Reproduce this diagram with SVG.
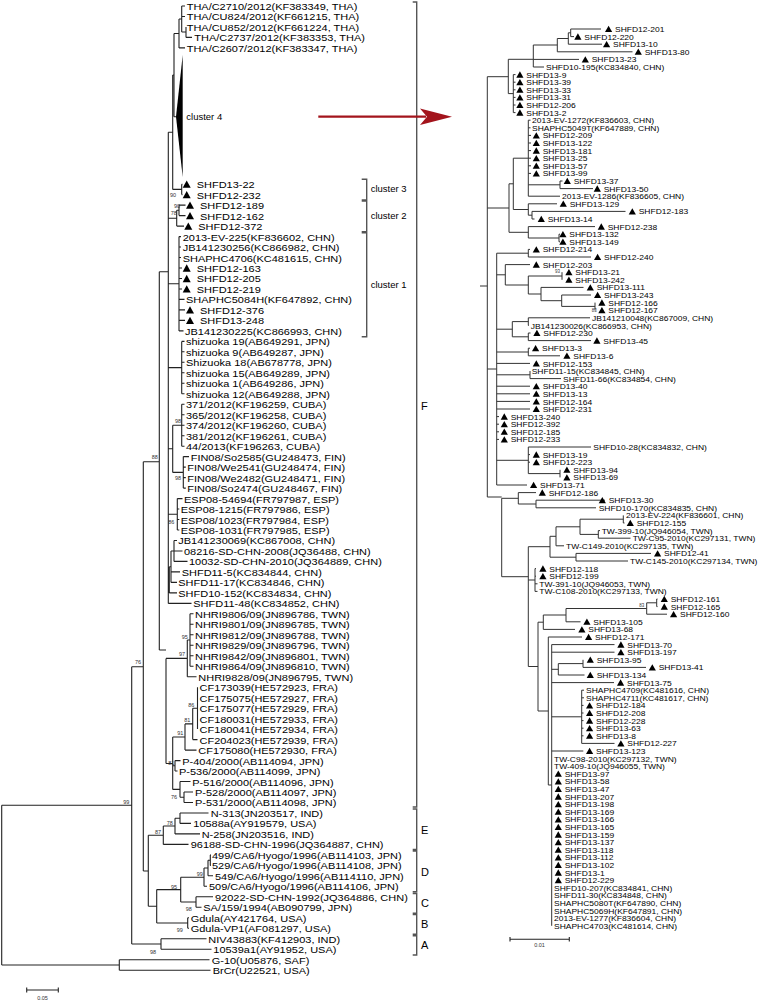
<svg xmlns="http://www.w3.org/2000/svg" xmlns:xlink="http://www.w3.org/1999/xlink" width="762" height="1000" viewBox="0 0 762 1000">
<style>
.L{font-family:"Liberation Sans",Arial,sans-serif;font-size:11px;fill:#000}
.R{font-family:"Liberation Sans",Arial,sans-serif;font-size:8.5px;fill:#000}
.bs{font-family:"Liberation Sans",Arial,sans-serif;font-size:5.5px;fill:#333}
.bsr{font-family:"Liberation Sans",Arial,sans-serif;font-size:4.5px;fill:#333}
.cl{font-family:"Liberation Sans",Arial,sans-serif;font-size:9.5px;fill:#000}
.tree{fill:none;stroke:#222;stroke-width:1.1}
.rtree{fill:none;stroke:#333;stroke-width:1}
.br{fill:none;stroke:#555;stroke-width:1.4}
</style>
<defs>
<path id="tl" d="M0,4.3 L4,-4.3 L8,4.3Z" fill="#000"/>
<path id="tr" d="M0,4 L3.6,-4.3 L7.2,4Z" fill="#000"/>
</defs>
<rect width="762" height="1000" fill="#fff"/>

<g id="connectors">
<path class="tree" d="M181.7,6V32 M181.7,6H185 M181.7,16.5H185 M181.7,32H186 M186,27V37.4 M186,37.4H192 M179,19V47.9 M179,19H181.7 M179,47.9H185 M174,33.5V116.7 M174,33.5H179 M174,116.7H176 M172.7,75V189.4 M172.7,75H174 M172.7,189.4H181.7 M181.7,184.2V194.6 M181.7,184.2H182.5 M181.7,194.6H182.5 M168.3,132.2V603.4 M168.3,132.2H172.7 M179,205.1V215.6 M179,205.1H185.5 M179,215.6H185.5 M176.7,210.3V226.1 M176.7,210.3H179 M176.7,226.1H184 M168.3,218.2H176.7 M179,236.6V330.9 M179,236.6H181 M179,247H181 M179,257.5H181 M179,268H182 M179,278.5H182 M179,289H182 M179,299.4H184.5 M179,309.9H185 M179,320.4H185 M179,330.9H183.5 M168.3,283.7H179 M181.7,341.4V393.8 M181.7,341.4H184.5 M181.7,351.8H184.5 M181.7,362.3H184.5 M181.7,372.8H184.5 M181.7,383.3H184.5 M181.7,393.8H184.5 M168.3,367.6H181.7 M181.7,404.2V446.2 M181.7,404.2H184.5 M181.7,414.7H184.5 M181.7,425.2H184.5 M181.7,435.7H184.5 M181.7,446.2H184.5 M172.7,425.2V472.4 M172.7,425.2H181.7 M172.7,472.4H183.3 M168.3,448.8H172.7 M183.3,456.6V488.1 M183.3,456.6H189 M183.3,467.1H185.8 M183.3,477.6H185.8 M183.3,488.1H185.8 M177.3,498.6V530 M177.3,498.6H182.5 M177.3,509H179.3 M177.3,519.5H179.3 M177.3,530H179.3 M168.3,514.3H177.3 M174,540.5V561.4 M174,540.5H177 M174,551H182.5 M174,561.4H187.5 M171,551V582.4 M171,551H174 M171,571.9H180 M171,582.4H177 M169.3,566.7V592.9 M169.3,566.7H171 M169.3,592.9H177 M168.3,603.4H191.5 M159.3,271.7V650 M159.3,271.7H168.3 M159.3,650H166 M166,658.4V763.5 M166,658.4H187.3 M166,763.5H172.7 M190,613.8V666.2 M190,613.8H193.5 M190,624.3H193.5 M190,634.8H193.5 M190,645.3H193.5 M190,655.8H193.5 M190,666.2H193.5 M187.3,640V676.7 M187.3,640H190 M187.3,676.7H196.5 M197.5,687.2V729.1 M192.7,708.2V739.6 M192.7,708.2H197.5 M192.7,739.6H197.5 M185,723.9V750.1 M185,723.9H192.7 M185,750.1H196.5 M172.7,737V789.4 M172.7,737H185 M175,760.6V771 M172.7,765.8H175 M175,760.6H180.5 M175,771H177.5 M180,781.5V797.2 M172.7,789.4H180 M180,781.5H190.5 M184,792V802.5 M180,797.2H184 M184,792H193 M184,802.5H193 M143.3,461.7V871 M143.3,461.7H159.3 M180,813V823.4 M180,813H208.5 M180,823.4H191 M175,818.2V833.9 M175,818.2H180 M175,833.9H200 M163.3,826V844.4 M163.3,826H175 M163.3,844.4H188.5 M148.3,835.2V906.3 M148.3,835.2H163.3 M143.3,871H148.3 M210.3,854.9V865.4 M210.3,854.9H211 M210.3,865.4H211 M208,860.2V875.8 M208,860.2H210.3 M208,875.8H213 M204,868V886.3 M204,868H208 M204,886.3H207 M196,896.8V907.3 M196,896.8H213 M196,907.3H201.5 M180.7,877.2V902 M180.7,877.2H204 M180.7,902H196 M187.7,917.8V928.2 M187.7,917.8H189 M187.7,928.2H189 M156.7,889.6V923 M156.7,889.6H180.7 M156.7,923H187.7 M148.3,906.3H156.7 M161,938.7V949.2 M161,938.7H206.5 M161,949.2H211.5 M131.7,666.7V944 M131.7,666.7H143.3 M131.7,944H161 M1.7,805.3V965 M1.7,805.3H131.7 M1.7,965H119.3 M119.3,959.7V970.2 M119.3,959.7H209.5 M119.3,970.2H210.5"/>
<polygon points="176,116.7 182.7,55 182.7,177" fill="#000"/>
<path class="rtree" d="M480,286H487.3 M487.3,76.7V497 M487.3,76.7H508.3 M508.3,59.3V93.6 M508.3,59.3H533.3 M508.3,93.6H513.3 M533.3,45V67 M533.3,59.4H579 M533.3,67H544 M533.3,45H557.3 M557.3,38.5V51.8 M557.3,51.8H632.5 M557.3,38.5H568.3 M568.3,32.8V44.2 M568.3,44.2H602 M568.3,32.8H570.7 M570.7,29V36.6 M570.7,29H601 M570.7,36.6H574 M513.3,74.6V112.6 M513.3,74.6H515.5 M513.3,82.2H515.5 M513.3,89.8H515.5 M513.3,97.4H515.5 M513.3,105H515.5 M513.3,112.6H515.5 M528.3,120.2V196.2 M528.3,120.2H530.5 M528.3,127.8H530.5 M528.3,135.4H531 M528.3,143H531 M528.3,150.6H531 M528.3,158.2H531 M528.3,165.8H531 M528.3,173.4H531 M528.3,184.8H560 M560,181V188.6 M560,181H562.5 M560,188.6H593 M528.3,196.2H560 M528.3,203.8V215.2 M528.3,203.8H557 M528.3,215.2H532 M532,211.4V219 M532,211.4H625.5 M532,219H534.5 M528.3,226.6V238 M528.3,226.6H595 M528.3,238H559 M559,234.2V241.8 M559,234.2H560 M559,241.8H560 M513.3,158.2V209.5 M513.3,158.2H528.3 M513.3,209.5H528.3 M509,183.8V232.3 M509,183.8H513.3 M509,232.3H528.3 M487.3,208H509 M528.3,249.4V257 M528.3,249.4H530 M528.3,257H591 M595,302.6V310.2 M561.7,295V306.4 M561.7,295H591 M561.7,306.4H595 M541,287.4V300.7 M541,287.4H583.5 M541,300.7H561.7 M562,272.2V279.8 M528.3,276V294 M528.3,276H562 M528.3,294H541 M505.3,264.6V285 M505.3,264.6H530 M505.3,285H528.3 M528.3,317.8V325.4 M528.3,317.8H590 M528.3,325.4H529 M528.3,333V340.6 M528.3,333H530.5 M528.3,340.6H591 M512.3,321.6V336.8 M512.3,321.6H528.3 M512.3,336.8H528.3 M496.7,253.2V485 M487.3,369H496.7 M496.7,253.2H528.3 M496.7,274.8H505.3 M496.7,329.2H512.3 M528.3,348.2V355.8 M528.3,348.2H530 M528.3,355.8H560 M496.7,352H528.3 M496.7,363.4H530 M530,371V378.6 M530,378.6H561 M496.7,374.8H530 M496.7,386.2H530 M496.7,393.8H530 M496.7,401.4H530 M496.7,409H530 M496.7,416.6H499 M496.7,424.2H499 M496.7,431.8H499 M496.7,439.4H499 M528.3,447V473.6 M528.3,447H591 M528.3,454.6H530 M528.3,462.2H530 M528.3,473.6H560 M560,469.8V477.4 M496.7,460.3H528.3 M496.7,485H527 M487.3,497H501.7 M501.7,498.3V576.7 M501.7,498.3H518.3 M518.3,492.6V504 M518.3,492.6H536 M518.3,504H536 M536,500.2V507.8 M536,500.2H605 M536,507.8H596 M501.7,576.7H528.3 M528.3,546.7V666.5 M528.3,546.7H550 M550,536.3V557.2 M550,536.3H556 M556,526.8V545.8 M556,526.8H580 M556,545.8H564 M580,519.2V534.4 M580,519.2H623.3 M623.3,515.4V523 M623.3,523H624.5 M580,534.4H598.3 M598.3,530.6V538.2 M598.3,530.6H600 M598.3,538.2H630.5 M550,557.2H576 M576,553.4V561 M576,553.4H651 M576,561H628 M528.3,580H535 M535,568.6V591.4 M535,568.6H536 M535,576.2H536 M535,583.8H537.5 M535,591.4H537.5 M528.3,666.5H538 M538,622.2V711 M538,622.2H543.3 M543.3,615V629.4 M543.3,615H566 M543.3,629.4H575 M566,608.5V621.8 M566,608.5H646.7 M566,621.8H580.5 M646.7,602.8V614.2 M646.7,602.8H656.7 M646.7,614.2H667 M656.7,599V606.6 M656.7,599H657.5 M656.7,606.6H657.5 M538,711H548.3 M548.3,637V785 M548.3,637H582 M548.3,785H551.7 M551.7,644.6V925.8 M551.7,644.6H614.5 M551.7,652.2H614.5 M551.7,669.3H558.3 M558.3,663.6V675 M558.3,663.6H583 M583,659.8V667.4 M583,667.4H646 M558.3,675H584.5 M551.7,682.6H614 M551.7,716.8H581.7 M581.7,690.2V743.4 M581.7,690.2H584 M581.7,697.8H584 M581.7,705.4H583.5 M581.7,713H583.5 M581.7,720.6H583.5 M581.7,728.2H583.5 M581.7,735.8H583.5 M581.7,743.4H614.5 M551.7,751H583.3"/>
</g>

<g id="brackets">
<path class="br" d="M361.7,179.3H366.7V200H361.7 M361.7,201H366.7V231.7H361.7 M361.7,232.7H366.7V336.7H361.7 M412.7,2H416.7V807H412.7 M412.7,809H416.7V849.5H412.7 M412.7,851H416.7V891.7H412.7 M412.7,893.5H416.7V913.3H412.7 M412.7,914.5H416.7V934.3H412.7 M412.7,935.8H416.7V955H412.7"/>
<text class="cl" x="370.7" y="192.3">cluster 3</text>
<text class="cl" x="370.7" y="219">cluster 2</text>
<text class="cl" x="370.7" y="287.7">cluster 1</text>
<text class="L" x="421" y="410">F</text>
<text class="L" x="421" y="834">E</text>
<text class="L" x="421" y="876.3">D</text>
<text class="L" x="421" y="907.3">C</text>
<text class="L" x="421" y="928.3">B</text>
<text class="L" x="421" y="949">A</text>
</g>

<g id="arrow">
<line x1="318.3" y1="116.7" x2="426" y2="116.7" stroke="#a3141c" stroke-width="2.2"/>
<path d="M452,116.7 L420,108.5 L427,116.7 L420,124.9Z" fill="#a3141c"/>
</g>

<g id="bootstrap-left">
<text class="bs" x="170" y="197">90</text>
<text class="bs" x="174" y="207.5">90</text>
<text class="bs" x="170.7" y="215">78</text>
<text class="bs" x="175" y="423">98</text>
<text class="bs" x="151.7" y="459">88</text>
<text class="bs" x="175" y="480">98</text>
<text class="bs" x="168.3" y="523.5">86</text>
<text class="bs" x="181.7" y="638.5">95</text>
<text class="bs" x="179" y="656">97</text>
<text class="bs" x="135" y="664">76</text>
<text class="bs" x="188.3" y="707">86</text>
<text class="bs" x="184.3" y="722">81</text>
<text class="bs" x="177.3" y="735">91</text>
<text class="bs" x="168.3" y="764.5">81</text>
<text class="bs" x="171" y="798.5">76</text>
<text class="bs" x="123.3" y="803.5">99</text>
<text class="bs" x="166.7" y="824.5">78</text>
<text class="bs" x="155" y="833.5">87</text>
<text class="bs" x="196.7" y="876">99</text>
<text class="bs" x="171" y="888.5">95</text>
<text class="bs" x="185.7" y="911">98</text>
<text class="bs" x="176.7" y="932">99</text>
<text class="bs" x="150" y="953.5">98</text>
</g>
<g id="bootstrap-right">
<text class="bsr" x="555" y="272.5">93</text>
<text class="bsr" x="591.7" y="311.7">83</text>
<text class="bsr" x="639.3" y="606.7">83</text>
</g>

<g id="scalebars">
<path class="tree" d="M26.7,990H58.3 M26.7,987.5V992.5 M58.3,987.5V992.5 M510,939.3H569.3 M510,937V941.6 M569.3,937V941.6"/>
<text class="bs" x="42.5" y="999.5" text-anchor="middle">0.05</text>
<text class="bs" x="539.5" y="946.5" text-anchor="middle">0.01</text>
</g>

<g id="cluster4"><text class="cl" x="186.3" y="120">cluster 4</text></g>

<g id="left-leaves" transform="scale(1,0.85)">
<g id="l0"><text class="L" x="186.7" y="11.76">THA/C2710/2012(KF383349, THA)</text></g>
<g id="l1"><text class="L" x="186.7" y="24.09">THA/CU824/2012(KF661215, THA)</text></g>
<g id="l2"><text class="L" x="186.7" y="36.42">THA/CU852/2012(KF661224, THA)</text></g>
<g id="l3"><text class="L" x="194.3" y="48.75">THA/C2737/2012(KF383353, THA)</text></g>
<g id="l4"><text class="L" x="186.7" y="61.08">THA/C2607/2012(KF383347, THA)</text></g>
<g id="l17"><use href="#tl" x="182.7" y="216.66"/><text class="L" x="196.7" y="221.36">SHFD13-22</text></g>
<g id="l18"><use href="#tl" x="182.7" y="228.99"/><text class="L" x="196.7" y="233.69">SHFD12-232</text></g>
<g id="l19"><use href="#tl" x="186" y="241.32"/><text class="L" x="200" y="246.02">SHFD12-189</text></g>
<g id="l20"><use href="#tl" x="186" y="253.65"/><text class="L" x="200" y="258.35">SHFD12-162</text></g>
<g id="l21"><use href="#tl" x="184.3" y="265.98"/><text class="L" x="198.3" y="270.68">SHFD12-372</text></g>
<g id="l22"><text class="L" x="182.7" y="283.01">2013-EV-225(KF836602, CHN)</text></g>
<g id="l23"><text class="L" x="182.7" y="295.34">JB141230256(KC866982, CHN)</text></g>
<g id="l24"><text class="L" x="182.7" y="307.67">SHAPHC4706(KC481615, CHN)</text></g>
<g id="l25"><use href="#tl" x="182.7" y="315.29"/><text class="L" x="196.7" y="320">SHFD12-163</text></g>
<g id="l26"><use href="#tl" x="182.7" y="327.62"/><text class="L" x="196.7" y="332.33">SHFD12-205</text></g>
<g id="l27"><use href="#tl" x="182.7" y="339.95"/><text class="L" x="196.7" y="344.66">SHFD12-219</text></g>
<g id="l28"><text class="L" x="186" y="356.99">SHAPHC5084H(KF647892, CHN)</text></g>
<g id="l29"><use href="#tl" x="186" y="364.61"/><text class="L" x="200" y="369.32">SHFD12-376</text></g>
<g id="l30"><use href="#tl" x="186" y="376.94"/><text class="L" x="200" y="381.65">SHFD13-248</text></g>
<g id="l31"><text class="L" x="185" y="393.98">JB141230225(KC866993, CHN)</text></g>
<g id="l32"><text class="L" x="186" y="406.31">shizuoka 19(AB649291, JPN)</text></g>
<g id="l33"><text class="L" x="186" y="418.64">shizuoka 9(AB649287, JPN)</text></g>
<g id="l34"><text class="L" x="186" y="430.97">Shizuoka 18(AB678778, JPN)</text></g>
<g id="l35"><text class="L" x="186" y="443.3">shizuoka 15(AB649289, JPN)</text></g>
<g id="l36"><text class="L" x="186" y="455.63">shizuoka 1(AB649286, JPN)</text></g>
<g id="l37"><text class="L" x="186" y="467.96">shizuoka 12(AB649288, JPN)</text></g>
<g id="l38"><text class="L" x="186" y="480.29">371/2012(KF196259, CUBA)</text></g>
<g id="l39"><text class="L" x="186" y="492.62">365/2012(KF196258, CUBA)</text></g>
<g id="l40"><text class="L" x="186" y="504.94">374/2012(KF196260, CUBA)</text></g>
<g id="l41"><text class="L" x="186" y="517.27">381/2012(KF196261, CUBA)</text></g>
<g id="l42"><text class="L" x="186" y="529.6">44/2013(KF196263, CUBA)</text></g>
<g id="l43"><text class="L" x="190.7" y="541.93">FIN08/So2585(GU248473, FIN)</text></g>
<g id="l44"><text class="L" x="187.3" y="554.26">FIN08/We2541(GU248474, FIN)</text></g>
<g id="l45"><text class="L" x="187.3" y="566.59">FIN08/We2482(GU248471, FIN)</text></g>
<g id="l46"><text class="L" x="187.3" y="578.92">FIN08/So2474(GU248467, FIN)</text></g>
<g id="l47"><text class="L" x="184" y="591.25">ESP08-54694(FR797987, ESP)</text></g>
<g id="l48"><text class="L" x="180.7" y="603.58">ESP08-1215(FR797986, ESP)</text></g>
<g id="l49"><text class="L" x="180.7" y="615.91">ESP08/1023(FR797984, ESP)</text></g>
<g id="l50"><text class="L" x="180.7" y="628.24">ESP08-1031(FR797985, ESP)</text></g>
<g id="l51"><text class="L" x="178.3" y="640.57">JB141230069(KC867008, CHN)</text></g>
<g id="l52"><text class="L" x="184" y="652.9">08216-SD-CHN-2008(JQ36488, CHN)</text></g>
<g id="l53"><text class="L" x="189" y="665.23">10032-SD-CHN-2010(JQ364889, CHN)</text></g>
<g id="l54"><text class="L" x="181.7" y="677.56">SHFD11-5(KC834844, CHN)</text></g>
<g id="l55"><text class="L" x="178.3" y="689.89">SHFD11-17(KC834846, CHN)</text></g>
<g id="l56"><text class="L" x="178.3" y="702.22">SHFD10-152(KC834834, CHN)</text></g>
<g id="l57"><text class="L" x="193.3" y="714.55">SHFD11-48(KC834852, CHN)</text></g>
<g id="l58"><text class="L" x="195" y="726.88">NHRI9806/09(JN896786, TWN)</text></g>
<g id="l59"><text class="L" x="195" y="739.21">NHRI9801/09(JN896785, TWN)</text></g>
<g id="l60"><text class="L" x="195" y="751.53">NHRI9812/09(JN896788, TWN)</text></g>
<g id="l61"><text class="L" x="195" y="763.86">NHRI9829/09(JN896796, TWN)</text></g>
<g id="l62"><text class="L" x="195" y="776.19">NHRI9842/09(JN896801, TWN)</text></g>
<g id="l63"><text class="L" x="195" y="788.52">NHRI9864/09(JN896810, TWN)</text></g>
<g id="l64"><text class="L" x="198.3" y="800.85">NHRI9828/09(JN896795, TWN)</text></g>
<g id="l65"><text class="L" x="199.5" y="813.18">CF173039(HE572923, FRA)</text></g>
<g id="l66"><text class="L" x="199.5" y="825.51">CF175075(HE572927, FRA)</text></g>
<g id="l67"><text class="L" x="199.5" y="837.84">CF175077(HE572929, FRA)</text></g>
<g id="l68"><text class="L" x="199.5" y="850.17">CF180031(HE572933, FRA)</text></g>
<g id="l69"><text class="L" x="199.5" y="862.5">CF180041(HE572934, FRA)</text></g>
<g id="l70"><text class="L" x="199.5" y="874.83">CF204023(HE572939, FRA)</text></g>
<g id="l71"><text class="L" x="198.3" y="887.16">CF175080(HE572930, FRA)</text></g>
<g id="l72"><text class="L" x="182.3" y="899.49">P-404/2000(AB114094, JPN)</text></g>
<g id="l73"><text class="L" x="179" y="911.82">P-536/2000(AB114099, JPN)</text></g>
<g id="l74"><text class="L" x="192.3" y="924.15">P-516/2000(AB114096, JPN)</text></g>
<g id="l75"><text class="L" x="195" y="936.48">P-528/2000(AB114097, JPN)</text></g>
<g id="l76"><text class="L" x="195" y="948.81">P-531/2000(AB114098, JPN)</text></g>
<g id="l77"><text class="L" x="210.7" y="961.14">N-313(JN203517, IND)</text></g>
<g id="l78"><text class="L" x="193.3" y="973.47">10588a(AY919579, USA)</text></g>
<g id="l79"><text class="L" x="201.7" y="985.8">N-258(JN203516, IND)</text></g>
<g id="l80"><text class="L" x="190.7" y="998.12">96188-SD-CHN-1996(JQ364887, CHN)</text></g>
<g id="l81"><text class="L" x="212" y="1010.45">499/CA6/Hyogo/1996(AB114103, JPN)</text></g>
<g id="l82"><text class="L" x="212" y="1022.78">529/CA6/Hyogo/1996(AB114108, JPN)</text></g>
<g id="l83"><text class="L" x="215" y="1035.11">549/CA6/Hyogo/1996(AB114110, JPN)</text></g>
<g id="l84"><text class="L" x="209" y="1047.44">509/CA6/Hyogo/1996(AB114106, JPN)</text></g>
<g id="l85"><text class="L" x="215" y="1059.77">92022-SD-CHN-1992(JQ364886, CHN)</text></g>
<g id="l86"><text class="L" x="203.3" y="1072.1">SA/159/1994(AB090799, JPN)</text></g>
<g id="l87"><text class="L" x="190.7" y="1084.43">Gdula(AY421764, USA)</text></g>
<g id="l88"><text class="L" x="190.7" y="1096.76">Gdula-VP1(AF081297, USA)</text></g>
<g id="l89"><text class="L" x="208.3" y="1109.09">NIV43883(KF412903, IND)</text></g>
<g id="l90"><text class="L" x="213.3" y="1121.42">10539a1(AY91952, USA)</text></g>
<g id="l91"><text class="L" x="211.7" y="1133.75">G-10(U05876, SAF)</text></g>
<g id="l92"><text class="L" x="212.7" y="1146.08">BrCr(U22521, USA)</text></g>
</g>

<g id="right-leaves" transform="scale(1,0.76)">
<g id="r0"><use href="#tr" x="605" y="38.16"/><text class="R" x="615" y="42.24">SHFD12-201</text></g>
<g id="r1"><use href="#tr" x="574.3" y="48.16"/><text class="R" x="584.3" y="52.24">SHFD12-220</text></g>
<g id="r2"><use href="#tr" x="603" y="58.16"/><text class="R" x="613" y="62.24">SHFD13-10</text></g>
<g id="r3"><use href="#tr" x="634.7" y="68.16"/><text class="R" x="644.7" y="72.24">SHFD13-80</text></g>
<g id="r4"><use href="#tr" x="581.7" y="78.16"/><text class="R" x="591.7" y="82.24">SHFD13-23</text></g>
<g id="r5"><text class="R" x="546" y="92.24">SHFD10-195(KC834840, CHN)</text></g>
<g id="r6"><use href="#tr" x="516.3" y="98.16"/><text class="R" x="526.3" y="102.24">SHFD13-9</text></g>
<g id="r7"><use href="#tr" x="516.3" y="108.16"/><text class="R" x="526.3" y="112.24">SHFD13-39</text></g>
<g id="r8"><use href="#tr" x="516.3" y="118.16"/><text class="R" x="526.3" y="122.24">SHFD13-33</text></g>
<g id="r9"><use href="#tr" x="516.3" y="128.16"/><text class="R" x="526.3" y="132.24">SHFD13-31</text></g>
<g id="r10"><use href="#tr" x="516.3" y="138.16"/><text class="R" x="526.3" y="142.24">SHFD12-206</text></g>
<g id="r11"><use href="#tr" x="516.3" y="148.16"/><text class="R" x="526.3" y="152.24">SHFD13-2</text></g>
<g id="r12"><text class="R" x="532" y="162.24">2013-EV-1272(KF836603, CHN)</text></g>
<g id="r13"><text class="R" x="532" y="172.24">SHAPHC5049T(KF647889, CHN)</text></g>
<g id="r14"><use href="#tr" x="532.7" y="178.16"/><text class="R" x="542.7" y="182.24">SHFD12-209</text></g>
<g id="r15"><use href="#tr" x="532.7" y="188.16"/><text class="R" x="542.7" y="192.24">SHFD13-122</text></g>
<g id="r16"><use href="#tr" x="532.7" y="198.16"/><text class="R" x="542.7" y="202.24">SHFD13-181</text></g>
<g id="r17"><use href="#tr" x="532.7" y="208.16"/><text class="R" x="542.7" y="212.24">SHFD13-25</text></g>
<g id="r18"><use href="#tr" x="532.7" y="218.16"/><text class="R" x="542.7" y="222.24">SHFD13-57</text></g>
<g id="r19"><use href="#tr" x="532.7" y="228.16"/><text class="R" x="542.7" y="232.24">SHFD13-99</text></g>
<g id="r20"><use href="#tr" x="563.7" y="238.16"/><text class="R" x="573.7" y="242.24">SHFD13-37</text></g>
<g id="r21"><use href="#tr" x="593.7" y="248.16"/><text class="R" x="603.7" y="252.24">SHFD13-50</text></g>
<g id="r22"><text class="R" x="562" y="262.24">2013-EV-1286(KF836605, CHN)</text></g>
<g id="r23"><use href="#tr" x="559.7" y="268.16"/><text class="R" x="569.7" y="272.24">SHFD13-129</text></g>
<g id="r24"><use href="#tr" x="628.7" y="278.16"/><text class="R" x="638.7" y="282.24">SHFD12-183</text></g>
<g id="r25"><use href="#tr" x="537.7" y="288.16"/><text class="R" x="547.7" y="292.24">SHFD13-14</text></g>
<g id="r26"><use href="#tr" x="597.7" y="298.16"/><text class="R" x="607.7" y="302.24">SHFD12-238</text></g>
<g id="r27"><use href="#tr" x="559.3" y="308.16"/><text class="R" x="569.3" y="312.24">SHFD13-132</text></g>
<g id="r28"><use href="#tr" x="559.3" y="318.16"/><text class="R" x="569.3" y="322.24">SHFD13-149</text></g>
<g id="r29"><use href="#tr" x="532.7" y="328.16"/><text class="R" x="542.7" y="332.24">SHFD12-214</text></g>
<g id="r30"><use href="#tr" x="594" y="338.16"/><text class="R" x="604" y="342.24">SHFD12-240</text></g>
<g id="r31"><use href="#tr" x="532.7" y="348.16"/><text class="R" x="542.7" y="352.24">SHFD12-203</text></g>
<g id="r32"><use href="#tr" x="565.3" y="358.16"/><text class="R" x="575.3" y="362.24">SHFD13-21</text></g>
<g id="r33"><use href="#tr" x="565.3" y="368.16"/><text class="R" x="575.3" y="372.24">SHFD13-242</text></g>
<g id="r34"><use href="#tr" x="586.7" y="378.16"/><text class="R" x="596.7" y="382.24">SHFD13-111</text></g>
<g id="r35"><use href="#tr" x="594" y="388.16"/><text class="R" x="604" y="392.24">SHFD13-243</text></g>
<g id="r36"><use href="#tr" x="598.3" y="398.16"/><text class="R" x="608.3" y="402.24">SHFD12-166</text></g>
<g id="r37"><use href="#tr" x="598.3" y="408.16"/><text class="R" x="608.3" y="412.24">SHFD12-167</text></g>
<g id="r38"><text class="R" x="592" y="422.24">JB141210048(KC867009, CHN)</text></g>
<g id="r39"><text class="R" x="530.7" y="432.24">JB141230026(KC866953, CHN)</text></g>
<g id="r40"><use href="#tr" x="533.3" y="438.16"/><text class="R" x="543.3" y="442.24">SHFD12-230</text></g>
<g id="r41"><use href="#tr" x="593.3" y="448.16"/><text class="R" x="603.3" y="452.24">SHFD13-45</text></g>
<g id="r42"><use href="#tr" x="532" y="458.16"/><text class="R" x="542" y="462.24">SHFD13-3</text></g>
<g id="r43"><use href="#tr" x="563.3" y="468.16"/><text class="R" x="573.3" y="472.24">SHFD13-6</text></g>
<g id="r44"><use href="#tr" x="532.7" y="478.16"/><text class="R" x="542.7" y="482.24">SHFD12-153</text></g>
<g id="r45"><text class="R" x="531.7" y="492.24">SHFD11-15(KC834845, CHN)</text></g>
<g id="r46"><text class="R" x="563" y="502.24">SHFD11-66(KC834854, CHN)</text></g>
<g id="r47"><use href="#tr" x="532.7" y="508.16"/><text class="R" x="542.7" y="512.24">SHFD13-40</text></g>
<g id="r48"><use href="#tr" x="532.7" y="518.16"/><text class="R" x="542.7" y="522.24">SHFD13-13</text></g>
<g id="r49"><use href="#tr" x="532.7" y="528.16"/><text class="R" x="542.7" y="532.24">SHFD12-164</text></g>
<g id="r50"><use href="#tr" x="532.7" y="538.16"/><text class="R" x="542.7" y="542.24">SHFD12-231</text></g>
<g id="r51"><use href="#tr" x="500.7" y="548.16"/><text class="R" x="510.7" y="552.24">SHFD13-240</text></g>
<g id="r52"><use href="#tr" x="500.7" y="558.16"/><text class="R" x="510.7" y="562.24">SHFD12-392</text></g>
<g id="r53"><use href="#tr" x="500.7" y="568.16"/><text class="R" x="510.7" y="572.24">SHFD12-185</text></g>
<g id="r54"><use href="#tr" x="500.7" y="578.16"/><text class="R" x="510.7" y="582.24">SHFD12-233</text></g>
<g id="r55"><text class="R" x="593.3" y="592.24">SHFD10-28(KC834832, CHN)</text></g>
<g id="r56"><use href="#tr" x="532.7" y="598.16"/><text class="R" x="542.7" y="602.24">SHFD13-19</text></g>
<g id="r57"><use href="#tr" x="532.7" y="608.16"/><text class="R" x="542.7" y="612.24">SHFD12-223</text></g>
<g id="r58"><use href="#tr" x="563.3" y="618.16"/><text class="R" x="573.3" y="622.24">SHFD13-94</text></g>
<g id="r59"><use href="#tr" x="563.3" y="628.16"/><text class="R" x="573.3" y="632.24">SHFD13-69</text></g>
<g id="r60"><use href="#tr" x="530" y="638.16"/><text class="R" x="540" y="642.24">SHFD13-71</text></g>
<g id="r61"><use href="#tr" x="538.7" y="648.16"/><text class="R" x="548.7" y="652.24">SHFD12-186</text></g>
<g id="r62"><use href="#tr" x="598.7" y="658.16"/><text class="R" x="608.7" y="662.24">SHFD13-30</text></g>
<g id="r63"><text class="R" x="598.7" y="672.24">SHFD10-170(KC834835, CHN)</text></g>
<g id="r64"><text class="R" x="626" y="682.24">2013-EV-224(KF836601, CHN)</text></g>
<g id="r65"><use href="#tr" x="626.7" y="688.16"/><text class="R" x="636.7" y="692.24">SHFD12-155</text></g>
<g id="r66"><text class="R" x="601.7" y="702.24">TW-399-10(JQ946054, TWN)</text></g>
<g id="r67"><text class="R" x="632.7" y="712.24">TW-C95-2010(KC297131, TWN)</text></g>
<g id="r68"><text class="R" x="566" y="722.24">TW-C149-2010(KC297135, TWN)</text></g>
<g id="r69"><use href="#tr" x="654" y="728.16"/><text class="R" x="664" y="732.24">SHFD12-41</text></g>
<g id="r70"><text class="R" x="630" y="742.24">TW-C145-2010(KC297134, TWN)</text></g>
<g id="r71"><use href="#tr" x="539.3" y="748.16"/><text class="R" x="549.3" y="752.24">SHFD12-118</text></g>
<g id="r72"><use href="#tr" x="539.3" y="758.16"/><text class="R" x="549.3" y="762.24">SHFD12-199</text></g>
<g id="r73"><text class="R" x="539.3" y="772.24">TW-391-10(JQ946053, TWN)</text></g>
<g id="r74"><text class="R" x="539.3" y="782.24">TW-C108-2010(KC297133, TWN)</text></g>
<g id="r75"><use href="#tr" x="660.7" y="788.16"/><text class="R" x="670.7" y="792.24">SHFD12-161</text></g>
<g id="r76"><use href="#tr" x="660.7" y="798.16"/><text class="R" x="670.7" y="802.24">SHFD12-165</text></g>
<g id="r77"><use href="#tr" x="670" y="808.16"/><text class="R" x="680" y="812.24">SHFD12-160</text></g>
<g id="r78"><use href="#tr" x="583.3" y="818.16"/><text class="R" x="593.3" y="822.24">SHFD13-105</text></g>
<g id="r79"><use href="#tr" x="578.3" y="828.16"/><text class="R" x="588.3" y="832.24">SHFD13-68</text></g>
<g id="r80"><use href="#tr" x="585" y="838.16"/><text class="R" x="595" y="842.24">SHFD12-171</text></g>
<g id="r81"><use href="#tr" x="617.3" y="848.16"/><text class="R" x="627.3" y="852.24">SHFD13-70</text></g>
<g id="r82"><use href="#tr" x="617.3" y="858.16"/><text class="R" x="627.3" y="862.24">SHFD13-197</text></g>
<g id="r83"><use href="#tr" x="586.7" y="868.16"/><text class="R" x="596.7" y="872.24">SHFD13-95</text></g>
<g id="r84"><use href="#tr" x="648.7" y="878.16"/><text class="R" x="658.7" y="882.24">SHFD13-41</text></g>
<g id="r85"><use href="#tr" x="586.7" y="888.16"/><text class="R" x="596.7" y="892.24">SHFD13-134</text></g>
<g id="r86"><use href="#tr" x="617" y="898.16"/><text class="R" x="627" y="902.24">SHFD13-75</text></g>
<g id="r87"><text class="R" x="586" y="912.24">SHAPHC4709(KC481616, CHN)</text></g>
<g id="r88"><text class="R" x="586" y="922.24">SHAPHC4711(KC481617, CHN)</text></g>
<g id="r89"><use href="#tr" x="586" y="928.16"/><text class="R" x="596" y="932.24">SHFD12-184</text></g>
<g id="r90"><use href="#tr" x="586" y="938.16"/><text class="R" x="596" y="942.24">SHFD12-208</text></g>
<g id="r91"><use href="#tr" x="586" y="948.16"/><text class="R" x="596" y="952.24">SHFD12-228</text></g>
<g id="r92"><use href="#tr" x="586" y="958.16"/><text class="R" x="596" y="962.24">SHFD13-63</text></g>
<g id="r93"><use href="#tr" x="586" y="968.16"/><text class="R" x="596" y="972.24">SHFD13-8</text></g>
<g id="r94"><use href="#tr" x="617.3" y="978.16"/><text class="R" x="627.3" y="982.24">SHFD12-227</text></g>
<g id="r95"><use href="#tr" x="586" y="988.16"/><text class="R" x="596" y="992.24">SHFD13-123</text></g>
<g id="r96"><text class="R" x="554" y="1002.24">TW-C98-2010(KC297132, TWN)</text></g>
<g id="r97"><text class="R" x="554" y="1012.24">TW-409-10(JQ946055, TWN)</text></g>
<g id="r98"><use href="#tr" x="554.7" y="1018.16"/><text class="R" x="564.7" y="1022.24">SHFD13-97</text></g>
<g id="r99"><use href="#tr" x="554.7" y="1028.16"/><text class="R" x="564.7" y="1032.24">SHFD13-58</text></g>
<g id="r100"><use href="#tr" x="554.7" y="1038.16"/><text class="R" x="564.7" y="1042.24">SHFD13-47</text></g>
<g id="r101"><use href="#tr" x="554.7" y="1048.16"/><text class="R" x="564.7" y="1052.24">SHFD13-207</text></g>
<g id="r102"><use href="#tr" x="554.7" y="1058.16"/><text class="R" x="564.7" y="1062.24">SHFD13-198</text></g>
<g id="r103"><use href="#tr" x="554.7" y="1068.16"/><text class="R" x="564.7" y="1072.24">SHFD13-169</text></g>
<g id="r104"><use href="#tr" x="554.7" y="1078.16"/><text class="R" x="564.7" y="1082.24">SHFD13-166</text></g>
<g id="r105"><use href="#tr" x="554.7" y="1088.16"/><text class="R" x="564.7" y="1092.24">SHFD13-165</text></g>
<g id="r106"><use href="#tr" x="554.7" y="1098.16"/><text class="R" x="564.7" y="1102.24">SHFD13-159</text></g>
<g id="r107"><use href="#tr" x="554.7" y="1108.16"/><text class="R" x="564.7" y="1112.24">SHFD13-137</text></g>
<g id="r108"><use href="#tr" x="554.7" y="1118.16"/><text class="R" x="564.7" y="1122.24">SHFD13-118</text></g>
<g id="r109"><use href="#tr" x="554.7" y="1128.16"/><text class="R" x="564.7" y="1132.24">SHFD13-112</text></g>
<g id="r110"><use href="#tr" x="554.7" y="1138.16"/><text class="R" x="564.7" y="1142.24">SHFD13-102</text></g>
<g id="r111"><use href="#tr" x="554.7" y="1148.16"/><text class="R" x="564.7" y="1152.24">SHFD13-1</text></g>
<g id="r112"><use href="#tr" x="554.7" y="1158.16"/><text class="R" x="564.7" y="1162.24">SHFD12-229</text></g>
<g id="r113"><text class="R" x="554" y="1172.24">SHFD10-207(KC834841, CHN)</text></g>
<g id="r114"><text class="R" x="554" y="1182.24">SHFD11-30(KC834848, CHN)</text></g>
<g id="r115"><text class="R" x="554" y="1192.24">SHAPHC5080T(KF647890, CHN)</text></g>
<g id="r116"><text class="R" x="554" y="1202.24">SHAPHC5069H(KF647891, CHN)</text></g>
<g id="r117"><text class="R" x="554" y="1212.24">2013-EV-1277(KF836604, CHN)</text></g>
<g id="r118"><text class="R" x="554" y="1222.24">SHAPHC4703(KC481614, CHN)</text></g>
</g>
</svg>
